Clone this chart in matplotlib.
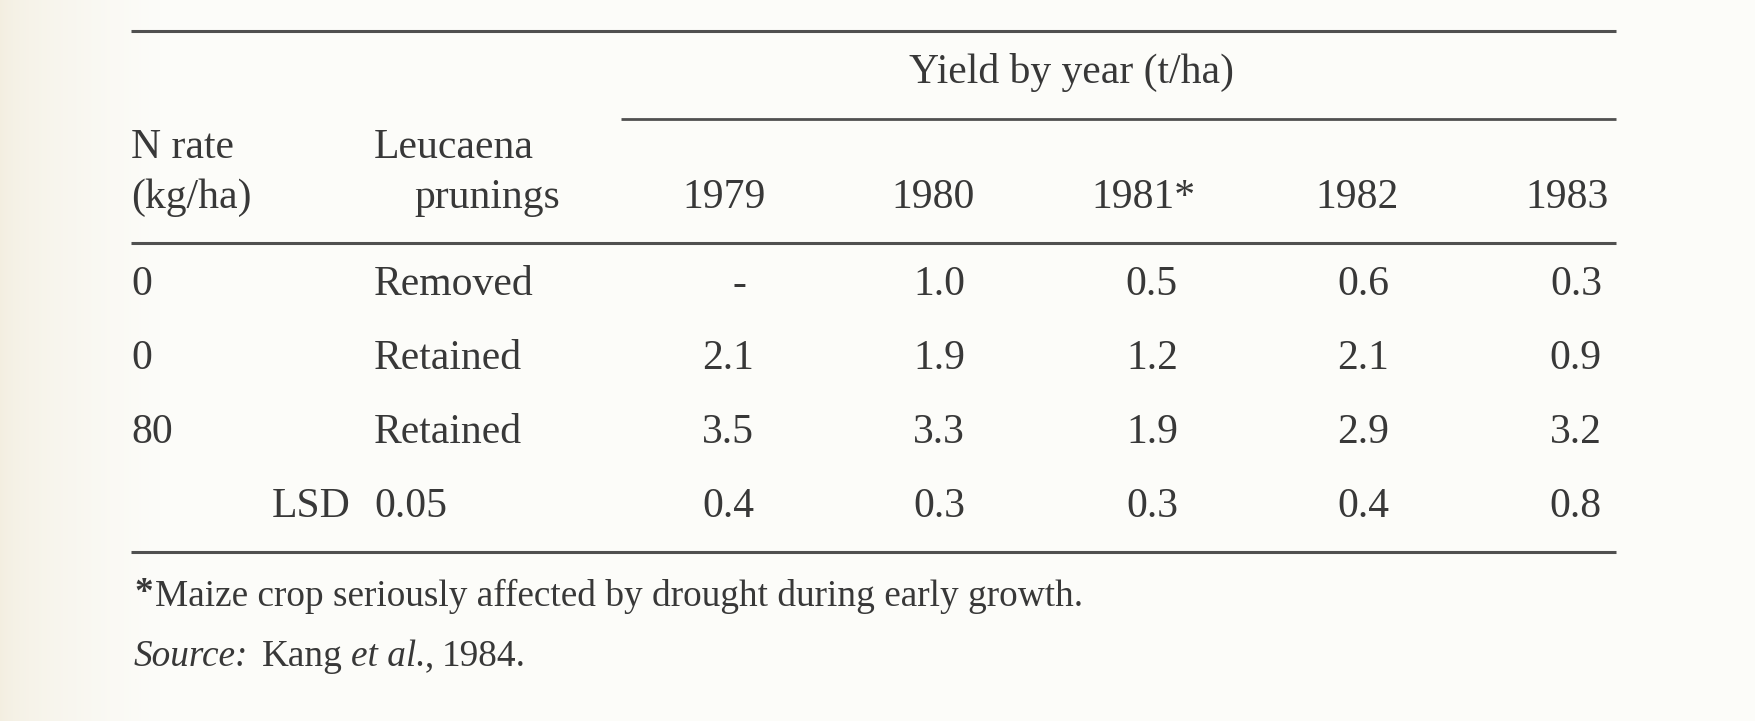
import numpy as np
import matplotlib as mpl
mpl.use('Agg')
import matplotlib.pyplot as plt

years = ['1979', '1980', '1981*', '1982', '1983']
n_rates = ['0', '0', '80']
prunings = ['Removed', 'Retained', 'Retained']
yields = [
    ['-', '1.0', '0.5', '0.6', '0.3'],
    ['2.1', '1.9', '1.2', '2.1', '0.9'],
    ['3.5', '3.3', '1.9', '2.9', '3.2'],
]
lsd = ['0.4', '0.3', '0.3', '0.4', '0.8']
footnote = 'Maize crop seriously affected by drought during early growth.'

W, H = 1756, 721
ink = '#383838'
rule = '#505050'
plt.rcParams['font.family'] = ['Liberation Serif', 'DejaVu Serif']

fig = plt.figure(figsize=(W / 100, H / 100), dpi=100)
ax = fig.add_axes([0, 0, 1, 1])
ax.set_xlim(0, W)
ax.set_ylim(H, 0)
ax.axis('off')

# scanned paper: cream fade on the left edge
grad = np.linspace(0, 1, 256) ** 0.6
paper = np.zeros((1, 256, 3))
left = np.array([243, 238, 224]) / 255
right = np.array([252, 252, 249]) / 255
for k in range(3):
    paper[0, :, k] = left[k] + (right[k] - left[k]) * grad
ax.imshow(paper, extent=[0, 160, H, 0], aspect='auto', zorder=0)
ax.add_patch(plt.Rectangle((160, 0), W - 160, H, color=right, zorder=0))

fs = 30
x0, x1 = 131, 1616
col_r = [754, 965, 1178, 1389, 1602]
head_r = [766, 975, 1196, 1399, 1609]

for y in [31, 243, 552]:
    ax.plot([x0, x1], [y, y], color=rule, lw=2.2, solid_capstyle='butt')
ax.plot([621, x1], [119, 119], color=rule, lw=2.0, solid_capstyle='butt')

ax.text(909, 83, 'Yield by year (t/ha)', fontsize=fs, color=ink, va='baseline')
ax.text(x0, 158, 'N rate', fontsize=fs, color=ink, va='baseline')
ax.text(x0, 208, '(kg/ha)', fontsize=fs, color=ink, va='baseline')
ax.text(374, 158, 'Leucaena', fontsize=fs, color=ink, va='baseline')
ax.text(560, 208, 'prunings', fontsize=fs, color=ink, va='baseline', ha='right')
for i, yr in enumerate(years):
    ax.text(head_r[i], 208, yr, fontsize=fs, color=ink, va='baseline', ha='right')

row_base = [295, 369, 443]
for r in range(len(n_rates)):
    yb = row_base[r]
    ax.text(x0, yb, n_rates[r], fontsize=fs, color=ink, va='baseline')
    ax.text(374, yb, prunings[r], fontsize=fs, color=ink, va='baseline')
    for i, v in enumerate(yields[r]):
        ax.text(col_r[i] - (8 if v == '-' else 0), yb, v, fontsize=fs, color=ink,
                va='baseline', ha='right')

ax.text(272, 517, 'LSD', fontsize=fs, color=ink, va='baseline')
ax.text(374, 517, '0.05', fontsize=fs, color=ink, va='baseline')
for i, v in enumerate(lsd):
    ax.text(col_r[i], 517, v, fontsize=fs, color=ink, va='baseline', ha='right')

fs2 = 26.8
ax.text(134, 603, '*', fontsize=fs2, color=ink, va='baseline', fontweight='bold')
ax.text(155, 606, footnote, fontsize=fs2, color=ink, va='baseline')

# source line, pieces with mixed styles
pieces = [('Source:', 'italic', 14), ('Kang', 'normal', 8), ('et al.', 'italic', -1),
          (',', 'normal', 8), ('1984.', 'normal', 0)]
fig.canvas.draw()
rend = fig.canvas.get_renderer()
xp = 134
for txt, style, gap in pieces:
    t = ax.text(xp, 666, txt, fontsize=fs2, color=ink, va='baseline', style=style)
    bb = t.get_window_extent(renderer=rend)
    xp += bb.width + gap

fig.savefig('out.png', dpi=100)
